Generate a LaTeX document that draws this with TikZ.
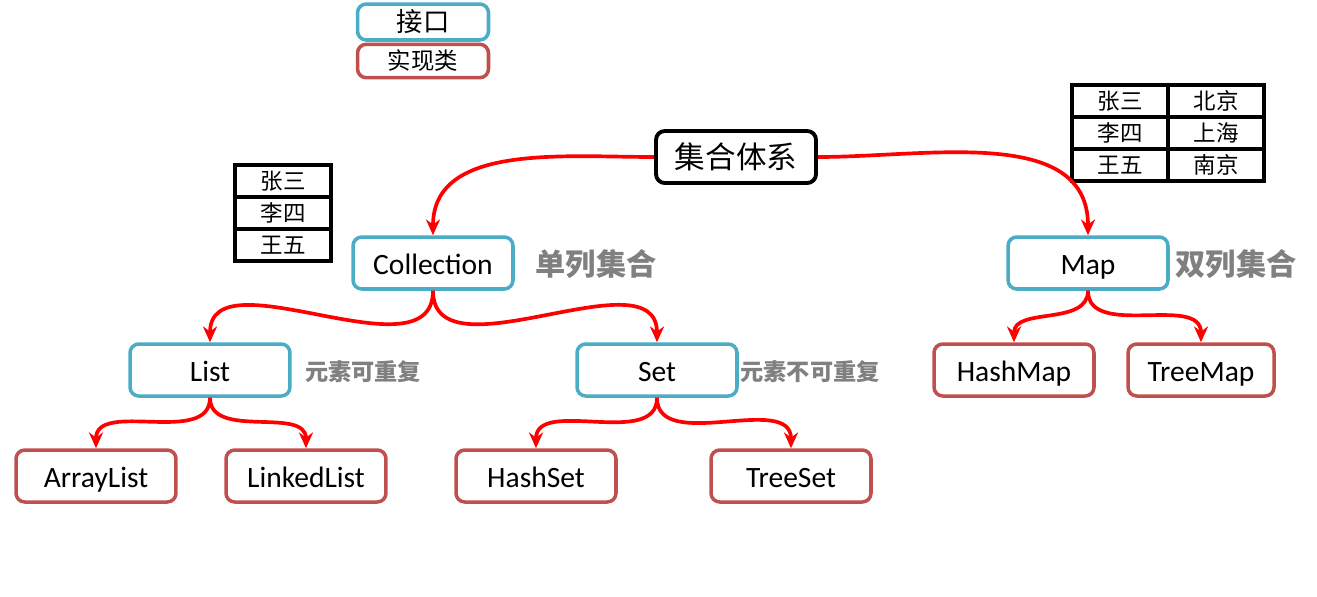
\documentclass[tikz,border=0pt]{standalone}
\usepackage{fontspec}
\setmainfont{Carlito}
\newfontfamily\cjk{Noto Sans CJK SC}
\usetikzlibrary{arrows.meta}
\definecolor{ifaceblue}{RGB}{75,172,198}
\definecolor{implred}{RGB}{192,80,77}
\definecolor{notegray}{RGB}{128,128,128}

\begin{document}
\begin{tikzpicture}[x=0.02cm, y=-0.02cm,
  iface/.style={draw=ifaceblue, line width=2pt, rounded corners=5pt, fill=white,
    minimum width=3.2cm, minimum height=1.04cm, text height=14.5pt, text depth=1pt,
    font=\fontsize{16.8}{18}\selectfont},
  impl/.style={iface, draw=implred},
  legend/.style={minimum width=2.62cm, minimum height=0.6cm, text height=, text depth=,
    font=\cjk\fontsize{13.3}{15}\selectfont},
  note/.style={text=notegray, font=\cjk\bfseries\fontsize{13.2}{15}\selectfont},
  cell/.style={draw, line width=2.1pt, minimum width=1.92cm, minimum height=0.64cm, inner sep=0pt,
    font=\cjk\fontsize{12.8}{14}\selectfont},
  link/.style={red, line width=2.1pt, -{Stealth[length=9pt, width=8pt]}}
]
  \useasboundingbox (0,0) rectangle (1317,596);

  % Legend
  \node[iface, legend, font=\cjk\fontsize{15}{17}\selectfont] (legiface) at (423,22) {接口};
  \node[impl, legend] (legimpl) at (423,61) {实现类};

  % Root
  \node[draw, line width=2.2pt, rounded corners=5pt, minimum width=3.2cm, minimum height=1.04cm,
    font=\cjk\fontsize{17.4}{19}\selectfont] (root) at (736,157) {集合体系};

  % Interfaces
  \node[iface] (coll) at (433,263) {Collection};
  \node[iface] (map) at (1088,263) {Map};
  \node[iface] (list) at (210,370) {List};
  \node[iface] (set) at (657,370) {Set};

  % Notes
  \node[note, font=\cjk\bfseries\fontsize{17.2}{19}\selectfont] (collnote) at (596,264) {单列集合};
  \node[note, font=\cjk\bfseries\fontsize{17.2}{19}\selectfont] (mapnote) at (1236,264) {双列集合};
  \node[note] (listnote) at (363,372) {元素可重复};
  \node[note] (setnote) at (810,372) {元素不可重复};

  % Implementations
  \node[impl] (arraylist) at (96,476) {ArrayList};
  \node[impl] (linkedlist) at (306,476) {LinkedList};
  \node[impl] (hashset) at (536,476) {HashSet};
  \node[impl] (treeset) at (791,476) {TreeSet};
  \node[impl] (hashmap) at (1014,370) {HashMap};
  \node[impl, minimum width=2.92cm] (treemap) at (1201,370) {TreeMap};

  % Single column table
  \node[cell] (sa) at (283,181) {张三};
  \node[cell] (sb) at (283,213) {李四};
  \node[cell] (sc) at (283,245) {王五};

  % Two column table
  \node[cell] (da) at (1120,101) {张三};
  \node[cell] (db) at (1120,133) {李四};
  \node[cell] (dc) at (1120,165) {王五};
  \node[cell] (ea) at (1216,101) {北京};
  \node[cell] (eb) at (1216,133) {上海};
  \node[cell] (ec) at (1216,165) {南京};

  % Connections
  \draw[link] (root.west) to[out=180, in=90] (coll.north);
  \draw[link] (root.east) to[out=0, in=90] (map.north);
  \draw[link] (coll.south) to[out=-90, in=90] (list.north);
  \draw[link] (coll.south) to[out=-90, in=90] (set.north);
  \draw[link] (list.south) to[out=-90, in=90] (arraylist.north);
  \draw[link] (list.south) to[out=-90, in=90] (linkedlist.north);
  \draw[link] (set.south) to[out=-90, in=90] (hashset.north);
  \draw[link] (set.south) to[out=-90, in=90] (treeset.north);
  \draw[link] (map.south) to[out=-90, in=90] (hashmap.north);
  \draw[link] (map.south) to[out=-90, in=90] (treemap.north);

\end{tikzpicture}
\end{document}
